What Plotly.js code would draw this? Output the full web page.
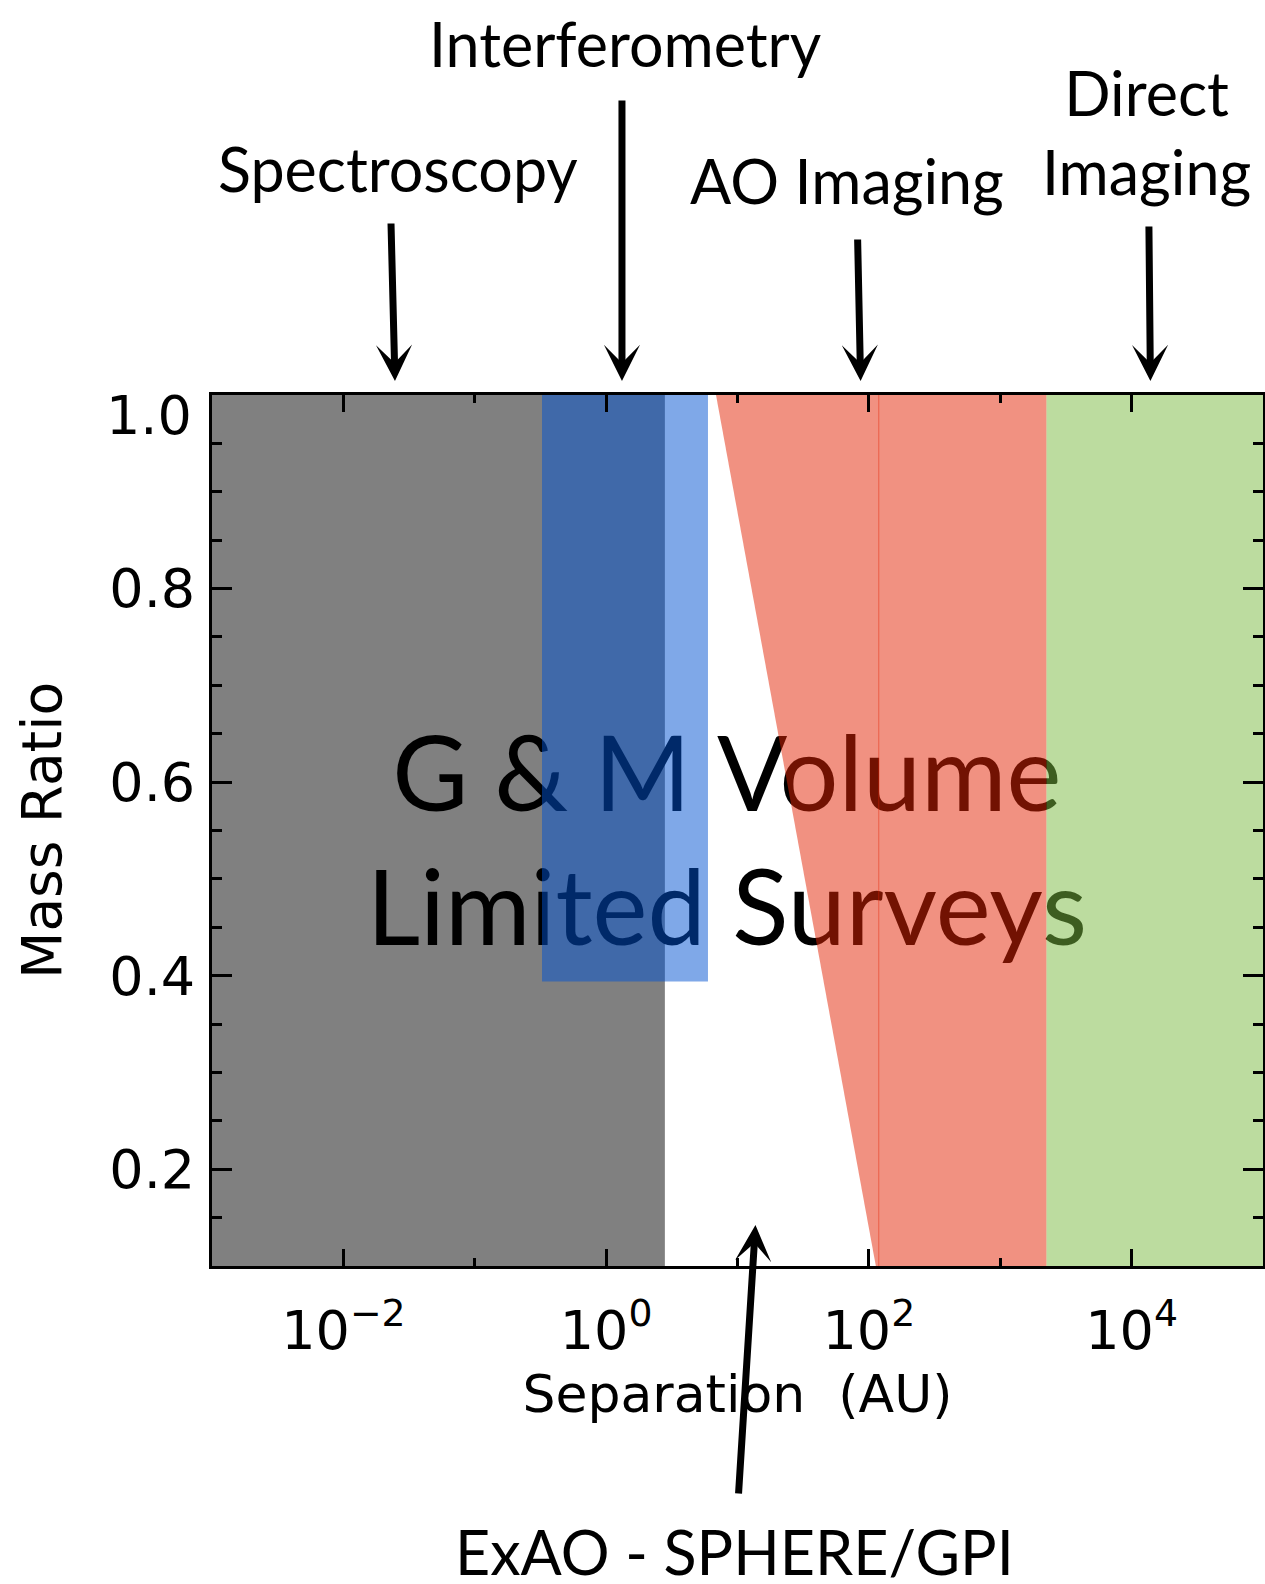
<!DOCTYPE html>
<html><head><meta charset="utf-8">
<script src="https://cdn.plot.ly/plotly-3.0.1.min.js"></script>
<style>html,body{margin:0;padding:0;background:#fff;}#chart{width:1265px;height:1584px;}</style>
</head><body><div id="chart"></div>
<script>
// ---- Region boundaries: separation (AU) vs mass ratio ----
const spectroscopyX = [0.001, 2.8, 2.8, 0.001];
const spectroscopyY = [0.1, 0.1, 1.0, 1.0];
const interferometryX = [0.325, 5.96, 5.96, 0.325];
const interferometryY = [0.394, 0.394, 1.0, 1.0];
const aoWedgeX = [6.86, 113, 120, 120];
const aoWedgeY = [1.0, 0.1, 0.1, 1.0];
const aoImagingX = [118, 2250, 2250, 118];
const aoImagingY = [0.1, 0.1, 1.0, 1.0];
const directImagingX = [2250, 100000, 100000, 2250];
const directImagingY = [0.1, 0.1, 1.0, 1.0];

// ---- Centre text ----
const surveyText = ['G\u2005&amp;\u2005M\u2005Volume', 'Limited Surveys'];
const surveyX = [8.3, 8.3];
const surveyY = [0.597, 0.459];

// ---- Technique labels and arrows ----
const techniqueLabels = ['Spectroscopy', 'Interferometry', 'AO Imaging', 'Direct<br>Imaging', 'ExAO - SPHERE/GPI'];
const labelX = [0.0261, 1.38, 68.2, 12970, 9.57];          // AU
const labelY = [1.2595, 1.4030, 1.2457, 1.3020, -0.3280];   // paper
const arrowTipX = [0.0247, 1.32, 86.5, 13900, 13.7];        // AU
const arrowTipY = [1.0161, 1.0161, 1.0161, 1.0161, 0.0471]; // paper
const arrowTailDX = [-4, 0, -3, -1.5, -17];
const arrowTailDY = [-159, -282, -143, -156, 270];

// ---- Axis ticks ----
const xTickVals = [0.01, 1, 100, 10000];
const xTickText = ['10<sup>−2</sup>', '10<sup>0</sup>', '10<sup>2</sup>', '10<sup>4</sup>'];
const xMinorVals = [0.1, 10, 1000];
const yTickVals = [0.2, 0.4, 0.6, 0.8, 1.0];
const yTickText = ['0.2', '0.4', '0.6', '0.8', '1.0'];

function region(x, y, color) {
  return {x: x, y: y, type: 'scatter', mode: 'none', fill: 'toself',
          fillcolor: color, hoverinfo: 'skip', showlegend: false};
}

const traces = [
  region(spectroscopyX, spectroscopyY, 'rgb(128,128,128)'),
  {x: surveyX, y: surveyY, text: surveyText, type: 'scatter', mode: 'text',
   textposition: 'middle center', hoverinfo: 'skip', showlegend: false,
   textfont: {family: 'Lato', size: 104, color: '#000'}},
  region(interferometryX, interferometryY, 'rgba(0,82,209,0.5)'),
  region(aoWedgeX, aoWedgeY, 'rgba(227,35,3,0.5)'),
  region(aoImagingX, aoImagingY, 'rgba(227,35,3,0.5)'),
  region(directImagingX, directImagingY, 'rgba(121,186,64,0.5)')
];

const labelFont = {family: 'Lato', size: 61, color: '#000'};
const axisFont = {family: 'DejaVu Sans', size: 54, color: '#000'};
const annotations = [];
techniqueLabels.forEach((t, i) => {
  annotations.push({text: t, xref: 'x', yref: 'paper', x: Math.log10(labelX[i]), y: labelY[i],
    xanchor: 'center', yanchor: 'middle', showarrow: false, font: labelFont});
  annotations.push({text: '', xref: 'x', yref: 'paper', x: Math.log10(arrowTipX[i]), y: arrowTipY[i],
    axref: 'pixel', ayref: 'pixel', ax: arrowTailDX[i], ay: arrowTailDY[i],
    showarrow: true, arrowhead: 3, arrowsize: 0.86, arrowwidth: 7, arrowcolor: '#000', standoff: 0});
});
// top y tick label is drawn nudged down inside the frame, as in the original
const topIdx = yTickVals.indexOf(1.0);
annotations.push({text: yTickText[topIdx], xref: 'paper', yref: 'paper', x: -0.017, y: 0.976,
  xanchor: 'right', yanchor: 'middle', showarrow: false, font: axisFont});
const yAxisText = yTickText.map((t, i) => i === topIdx ? '' : t);

const layout = {
  width: 1265, height: 1584,
  margin: {l: 212, r: 2, t: 395, b: 318},
  paper_bgcolor: '#fff', plot_bgcolor: '#fff',
  showlegend: false,
  xaxis: {
    type: 'log', range: [-3, 5],
    tickmode: 'array', tickvals: xTickVals, ticktext: xTickText,
    ticks: 'inside', ticklen: 17, tickwidth: 3, tickcolor: '#000',
    showline: true, linecolor: '#000', linewidth: 3, mirror: 'ticks',
    showgrid: false, zeroline: false, tickfont: axisFont, ticklabelstandoff: 15,
    minor: {tickmode: 'array', tickvals: xMinorVals, ticks: 'inside', ticklen: 8, tickwidth: 3, tickcolor: '#000', showgrid: false},
    title: {text: 'Separation  (AU)', font: {family: 'DejaVu Sans', size: 52, color: '#000'}, standoff: 15}
  },
  yaxis: {
    range: [0.1, 1.0],
    tickmode: 'array', tickvals: yTickVals, ticktext: yAxisText,
    ticks: 'inside', ticklen: 20, tickwidth: 3, tickcolor: '#000',
    showline: true, linecolor: '#000', linewidth: 3, mirror: 'ticks',
    showgrid: false, zeroline: false, tickfont: axisFont, ticklabelstandoff: 3,
    minor: {dtick: 0.05, ticks: 'inside', ticklen: 10, tickwidth: 3, tickcolor: '#000', showgrid: false},
    title: {text: 'Mass Ratio', font: {family: 'DejaVu Sans', size: 55, color: '#000'}, standoff: 31}
  },
  annotations: annotations
};

Plotly.newPlot('chart', traces, layout, {displayModeBar: false, staticPlot: true});
</script>
</body></html>
